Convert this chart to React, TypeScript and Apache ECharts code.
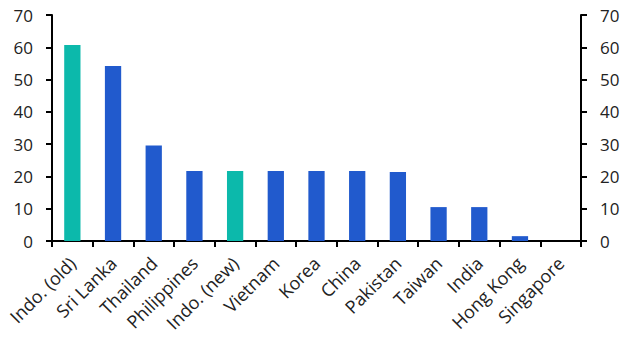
import React, { useEffect, useRef } from "react";
import * as echarts from "echarts";

const categories = ["Indo. (old)", "Sri Lanka", "Thailand", "Philippines", "Indo. (new)", "Vietnam", "Korea", "China", "Pakistan", "Taiwan", "India", "Hong Kong", "Singapore"];
const values = [60.7, 54.2, 29.6, 21.7, 21.7, 21.7, 21.7, 21.7, 21.4, 10.5, 10.5, 1.5, 0];
const highlighted = ["Indo. (old)", "Indo. (new)"];
const yTicks = { min: 0, max: 70, interval: 10 };

const TEAL = "#0cb9ab";
const BLUE = "#215acd";
const FONT = "'Open Sans', 'Noto Sans', sans-serif";

export default function App() {
  const ref = useRef<HTMLDivElement>(null);
  useEffect(() => {
    if (!ref.current) return;
    const chart = echarts.init(ref.current, undefined, { renderer: "svg" });
    const yAxisBase = (pos: "left" | "right") => ({
      type: "value" as const,
      position: pos,
      min: yTicks.min,
      max: yTicks.max,
      interval: yTicks.interval,
      axisLine: { show: true, lineStyle: { color: "#000", width: 2 } },
      axisTick: { show: true, length: 6, lineStyle: { color: "#000", width: 2 } },
      axisLabel: { color: "#222", fontSize: 17, fontFamily: FONT, margin: 19 },
      splitLine: { show: false },
    });
    chart.setOption({
      animation: false,
      grid: { left: 52, right: 47, top: 15, bottom: 112, containLabel: false },
      xAxis: {
        type: "category",
        data: categories,
        axisLine: { show: true, lineStyle: { color: "#000", width: 2 } },
        axisTick: { show: true, length: 6, lineStyle: { color: "#000", width: 2 }, alignWithLabel: false },
        axisLabel: { rotate: 45, interval: 0, color: "#222", fontSize: 18, fontFamily: FONT, margin: 19 },
      },
      yAxis: [yAxisBase("left"), yAxisBase("right")],
      series: [
        {
          type: "bar",
          data: values.map((v, i) => ({
            value: v,
            itemStyle: { color: highlighted.includes(categories[i]) ? TEAL : BLUE },
          })),
          barWidth: "40%",
        },
      ],
    });
    return () => chart.dispose();
  }, []);
  return <div ref={ref} style={{ width: 628, height: 353, position: "absolute", left: 0, top: 0 }} />;
}
